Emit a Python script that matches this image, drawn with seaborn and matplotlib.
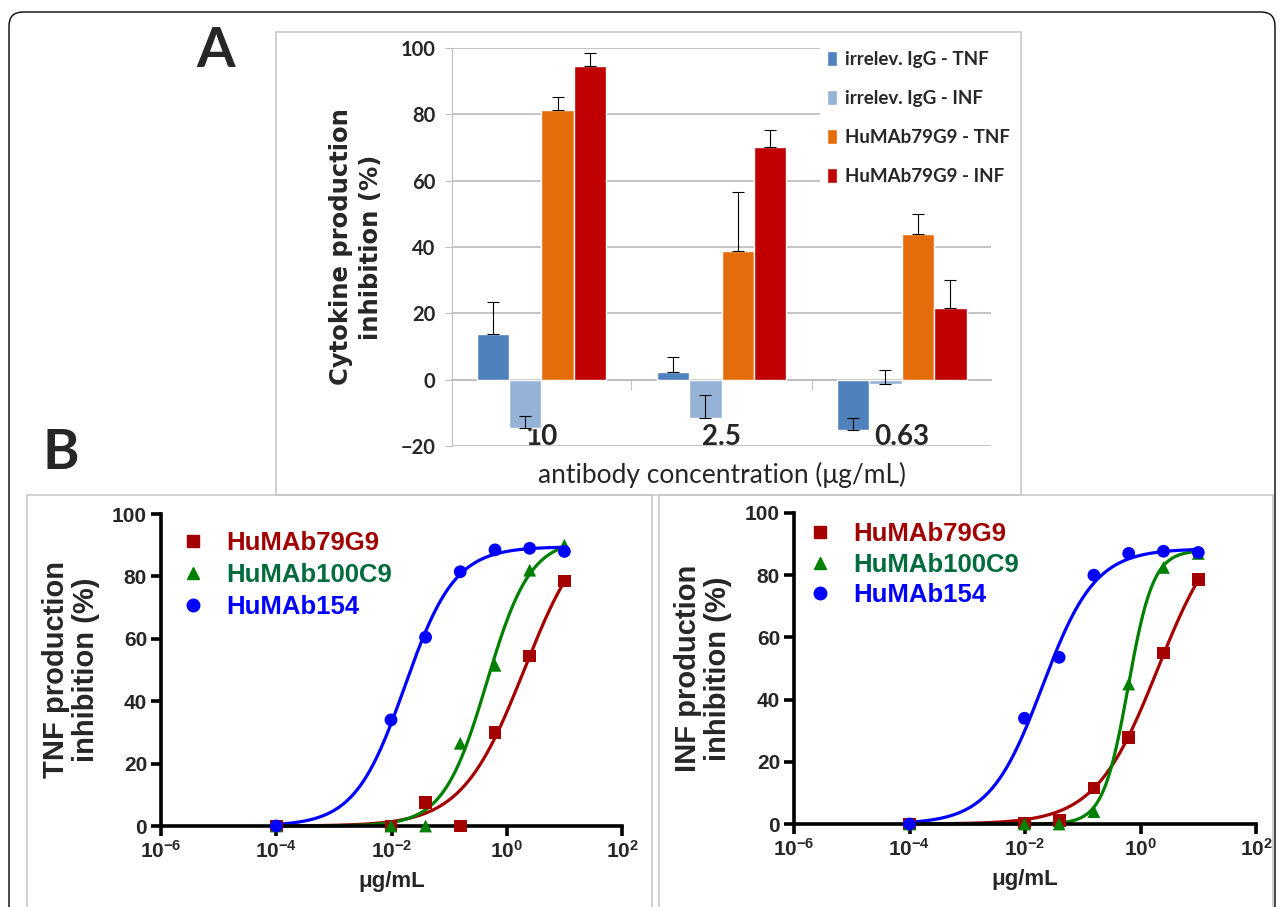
import numpy as np
import pandas as pd
import seaborn as sns
import matplotlib.pyplot as plt
from matplotlib.lines import Line2D
from matplotlib.patches import Rectangle, FancyBboxPatch
from matplotlib.transforms import IdentityTransform

# ---- panel A: cytokine inhibition bars ----
conc_labels = ['10', '2.5', '0.63']
bar_series = ['irrelev. IgG - TNF', 'irrelev. IgG - INF', 'HuMAb79G9 - TNF', 'HuMAb79G9 - INF']
irr_tnf = [13.8, 2.2, -15.2]
irr_inf = [-14.7, -11.7, -1.2]
mab_tnf = [81.3, 38.7, 43.9]
mab_inf = [94.6, 70.2, 21.5]
irr_tnf_err = [9.7, 4.6, 3.6]
irr_inf_err = [3.8, 7.0, 4.2]
mab_tnf_err = [3.9, 17.9, 6.1]
mab_inf_err = [3.9, 5.0, 8.6]
bar_colors = ['#4F81BD', '#95B3D7', '#E46C0A', '#C00000']

# ---- panel B: dose response ----
dose = [1e-4, 0.0098, 0.039, 0.156, 0.625, 2.5, 10]
antibodies = ['HuMAb79G9', 'HuMAb100C9', 'HuMAb154']
tnf_79g9 = [0, 0, 7.5, 0, 30, 54.5, 78.5]
tnf_100c9 = [0, 0, 0, 26.5, 51.5, 82, 90]
tnf_154 = [0, 34, 60.5, 81.5, 88.5, 89, 88]
inf_79g9 = [0, 0.3, 1, 11.6, 27.7, 55, 78.6]
inf_100c9 = [0, 0, 0, 4, 45, 82.5, 87]
inf_154 = [0, 34, 53.6, 80, 87, 87.7, 87.3]
# sigmoid fit parameters (bottom = 0)
tnf_top = [100, 92, 89.5]
tnf_ec50 = [2.0, 0.45, 0.017]
tnf_slope = [0.8, 1.15, 1.0]
inf_top = [100, 88, 88.5]
inf_ec50 = [2.0, 0.61, 0.02]
inf_slope = [0.8, 2.0, 0.95]
line_colors = ['#A50000', '#008000', '#0000FF']
text_colors = ['#A00000', '#006B3C', '#0000FF']
markers = ['s', '^', 'o']

sns.set_style('white')
plt.rcParams['font.family'] = ['Liberation Sans', 'DejaVu Sans']
plt.rcParams['mathtext.fontset'] = 'custom'
plt.rcParams['mathtext.rm'] = 'Liberation Sans'
plt.rcParams['mathtext.bf'] = 'Liberation Sans:bold'

W, H = 1281, 907
fig = plt.figure(figsize=(W / 100, H / 100), dpi=100)


def frac(x0, y0, x1, y1):
    # pixel box (top-left origin) -> figure rect
    return [x0 / W, 1 - y1 / H, (x1 - x0) / W, (y1 - y0) / H]


# frames
fig.add_artist(FancyBboxPatch((9, -30), 1266, H - 12 + 30, boxstyle='round,pad=0,rounding_size=14',
                              transform=IdentityTransform(), fill=False, ec='black', lw=1))
for box in [(276, 32, 1021, 495), (27, 495, 652, 930), (659, 495, 1273, 930)]:
    r = frac(*box)
    fig.add_artist(Rectangle((r[0], r[1]), r[2], r[3], transform=fig.transFigure,
                             fill=False, ec='#C8C8C8', lw=1.2))

fig.text(216 / W, 1 - 51 / H, 'A', fontsize=40, fontweight='bold', family='Lato', ha='center', va='center')
fig.text(61 / W, 1 - 453 / H, 'B', fontsize=40, fontweight='bold', family='Lato', ha='center', va='center')

# ---------------- panel A ----------------
axA = fig.add_axes(frac(452, 48, 991, 446))
vals = [irr_tnf, irr_inf, mab_tnf, mab_inf]
errs = [irr_tnf_err, irr_inf_err, mab_tnf_err, mab_inf_err]
dfA = pd.DataFrame({
    'conc': conc_labels * 4,
    'series': np.repeat(bar_series, 3),
    'value': sum(vals, []),
})
sns.barplot(data=dfA, x='conc', y='value', hue='series', order=conc_labels, hue_order=bar_series,
            palette=bar_colors, width=0.72, saturation=1, errorbar=None, ax=axA)
for cont, err in zip(axA.containers, errs):
    xs = [b.get_x() + b.get_width() / 2 for b in cont]
    ys = [b.get_height() for b in cont]
    axA.errorbar(xs, ys, yerr=[np.zeros(len(err)), err], fmt='none', ecolor='black',
                 elinewidth=0.8, capsize=4, capthick=0.8, zorder=4)

axA.set_ylim(-20, 100)
axA.set_yticks(range(-20, 101, 20))
axA.yaxis.grid(True, color='#BFBFBF', lw=1.3)
axA.set_axisbelow(True)
for s in ['top', 'right', 'bottom']:
    axA.spines[s].set_visible(False)
axA.spines['left'].set_color('#BFBFBF')
axA.tick_params(axis='y', direction='out', length=5, color='#BFBFBF', left=True, pad=7, labelsize=14.5)
for t in axA.get_yticklabels():
    t.set_fontweight('bold')
    t.set_family('Lato')
axA.tick_params(axis='x', length=0, pad=-16, labelsize=20)
for t in axA.get_xticklabels():
    t.set_fontweight('bold')
    t.set_family('Lato')
# zero line with category separators
zero = axA.secondary_xaxis(20 / 120)
zero.set_xticks([-0.5, 0.5, 1.5, 2.5])
zero.tick_params(direction='out', length=7, color='#BFBFBF', labelbottom=False, labeltop=False)
for sp in zero.spines.values():
    sp.set_color('#BFBFBF')
    sp.set_linewidth(1.3)

axA.set_ylabel('Cytokine production\ninhibition (%)', fontsize=17.5, fontweight='bold',
               family='DejaVu Sans', linespacing=1.3)
axA.yaxis.set_label_coords(-0.128, 0.5)
axA.set_xlabel('antibody concentration (μg/mL)', fontsize=19, family='Lato')
axA.xaxis.set_label_coords(0.5, -0.04)
sns.move_legend(axA, 'upper left', bbox_to_anchor=(0.682, 1.012), title=None, frameon=True,
                facecolor='white', edgecolor='none', framealpha=1, borderaxespad=0, borderpad=0.4,
                handlelength=0.55, handleheight=0.85, handletextpad=0.4, labelspacing=1.18,
                prop={'family': 'Lato', 'weight': 'bold', 'size': 13.5})


# ---------------- panel B ----------------
def dose_panel(box, values, tops, ec50s, slopes, ylabel, ylab_x, leg_anchor, leg_space):
    ax = fig.add_axes(frac(*box))
    pts = pd.DataFrame({'dose': dose * 3, 'inh': sum(values, []),
                        'ab': np.repeat(antibodies, len(dose))})
    grid = np.logspace(np.log10(dose[0]), np.log10(dose[-1]), 300)
    fit = pd.concat([pd.DataFrame({'dose': grid, 'inh': top / (1 + (ec / grid) ** n), 'ab': ab})
                     for ab, top, ec, n in zip(antibodies, tops, ec50s, slopes)])
    pal = dict(zip(antibodies, line_colors))
    sns.lineplot(data=fit, x='dose', y='inh', hue='ab', palette=pal, lw=2.3, legend=False,
                 ax=ax, clip_on=False, zorder=2)
    sns.scatterplot(data=pts, x='dose', y='inh', hue='ab', style='ab', palette=pal,
                    markers=dict(zip(antibodies, markers)), s=85, linewidth=0, legend=False,
                    ax=ax, clip_on=False, zorder=3)
    ax.set_xscale('log')
    ax.set_xlim(1e-6, 1e2)
    ax.set_ylim(0, 100)
    ax.set_xticks([1e-6, 1e-4, 1e-2, 1e0, 1e2],
                  [r'$\mathbf{10^{-6}}$', r'$\mathbf{10^{-4}}$', r'$\mathbf{10^{-2}}$',
                   r'$\mathbf{10^{0}}$', r'$\mathbf{10^{2}}$'])
    ax.minorticks_off()
    ax.set_yticks(range(0, 101, 20))
    for s in ['top', 'right']:
        ax.spines[s].set_visible(False)
    for s in ['left', 'bottom']:
        ax.spines[s].set_color('black')
        ax.spines[s].set_linewidth(2.6)
    ax.tick_params(direction='out', length=7, width=2.6, color='black', labelsize=15,
                   left=True, bottom=True, pad=3)
    for t in ax.get_yticklabels():
        t.set_fontweight('bold')
    ax.set_ylabel(ylabel, fontsize=21, fontweight='bold', linespacing=1.1)
    ax.yaxis.set_label_coords(ylab_x, 0.5)
    ax.set_xlabel('μg/mL', fontsize=16, fontweight='bold')
    ax.xaxis.set_label_coords(0.5, -0.145)
    handles = [Line2D([], [], marker=m, color=c, ls='none', markersize=9)
               for m, c in zip(markers, line_colors)]
    ax.legend(handles, antibodies, loc='upper left', bbox_to_anchor=leg_anchor, frameon=False,
              borderaxespad=0, borderpad=0, handlelength=0.95, handletextpad=0.8,
              labelspacing=leg_space, labelcolor=text_colors, prop={'weight': 'bold', 'size': 18.5})
    return ax


dose_panel((161, 514, 622, 826), [tnf_79g9, tnf_100c9, tnf_154], tnf_top, tnf_ec50, tnf_slope,
           'TNF production\ninhibition (%)', -0.132, (0.043, 0.944), 0.3)
dose_panel((794, 513, 1256, 824), [inf_79g9, inf_100c9, inf_154], inf_top, inf_ec50, inf_slope,
           'INF production\ninhibition (%)', -0.134, (0.03, 0.97), 0.25)

fig.savefig('out.png', dpi=100)
